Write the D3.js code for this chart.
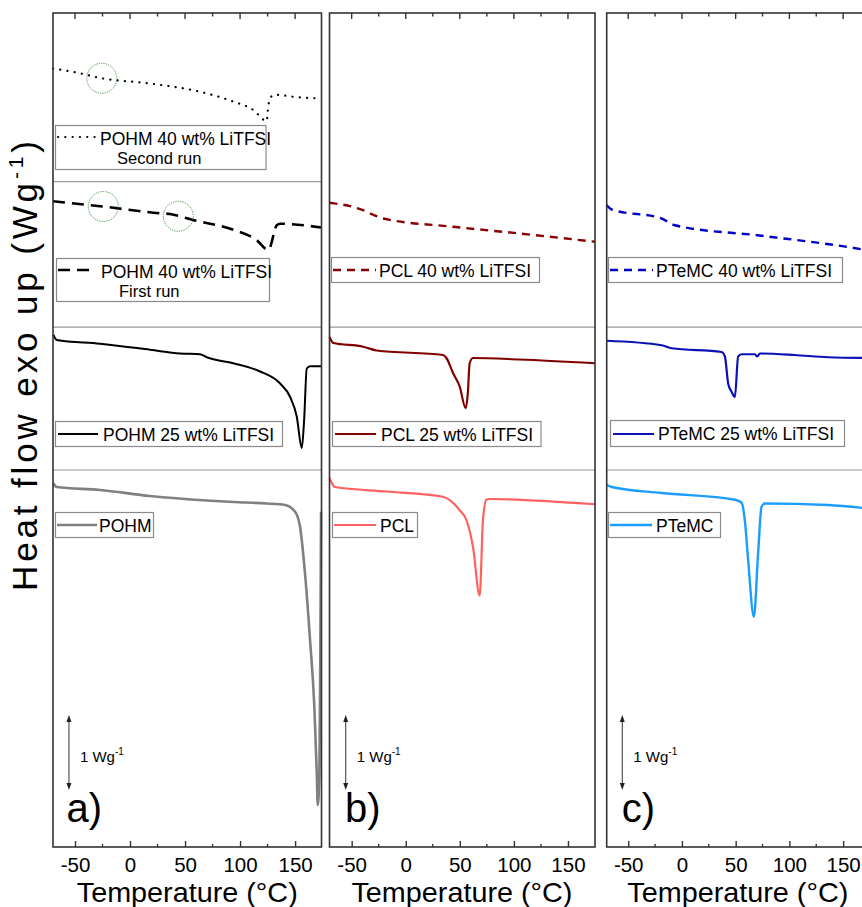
<!DOCTYPE html>
<html><head><meta charset="utf-8">
<script src="https://cdn.jsdelivr.net/npm/d3@7"></script>
<style>
body{margin:0;background:#fff}
svg{display:block}
text{font-family:"Liberation Sans",Arial,Helvetica,sans-serif;fill:#000}
</style>
</head><body>
<svg id="chart" width="862" height="907"></svg>
<script>
// ---------- data (temperature °C, heat flow W/g incl. stacking offset) ----------
const xTicks = [-50, 0, 50, 100, 150];
const xMinorTicks = [-25, 25, 75, 125];
const panelLabels = ["a)", "b)", "c)"];
const axisTitleX = "Temperature (°C)";
const scaleBarText = "1 Wg";

const pohm40Second = [[-70,10.38],[-50,10.33],[-25.7,10.25],[18.2,10.18],[63.6,10.07],[93.6,9.94],[111.8,9.83],[124.3,9.68],[125.5,9.87],[128,10.0],[131.8,10.03],[150,10.0],[173,9.98]];
const pohm40First = [[-70,8.61],[-25,8.54],[27.3,8.45],[36.4,8.44],[50,8.39],[57.5,8.36],[93.9,8.23],[115.2,8.09],[125.7,7.96],[133.4,8.29],[136.4,8.31],[173.5,8.26]];
const pohm25 = [[-69.7,6.83],[-66.6,6.76],[-27.3,6.71],[18.2,6.63],[45.5,6.58],[63.6,6.57],[69.7,6.53],[93.9,6.45],[118.2,6.34],[136.4,6.18],[145.5,6.00],[151.5,5.74],[156.1,5.32],[158.2,5.69],[160.6,6.38],[163.6,6.41],[173.6,6.41]];
const pohm = [[-69.7,4.85],[-66.6,4.80],[-27.3,4.76],[18.2,4.68],[69.7,4.62],[93.9,4.60],[124.3,4.58],[140.9,4.56],[150,4.47],[154.5,4.27],[159,3.65],[163.6,2.76],[167.5,1.87],[169.7,0.99],[170.6,0.56],[172.1,0.99],[173,2.76],[173.6,4.47]];

const pcl40 = [[-70.5,8.59],[-39.3,8.49],[-30.1,8.43],[-20.8,8.38],[43.7,8.27],[105.3,8.18],[175,8.07]];
const pcl25 = [[-70.5,6.80],[-67,6.72],[-39.3,6.67],[-26.9,6.62],[34.5,6.56],[37.6,6.52],[43.7,6.32],[49.9,6.14],[55.4,5.85],[57.4,6.05],[59.1,6.45],[62.2,6.52],[105.3,6.50],[175,6.45]];
const pcl = [[-70.5,4.92],[-65.5,4.80],[-17.7,4.74],[34.5,4.67],[49.9,4.49],[56.1,4.36],[62.2,4.00],[68.4,3.35],[71.4,4.36],[74.5,4.63],[77.6,4.64],[175,4.57]];

const ptemc40 = [[-70.1,8.56],[-65.4,8.50],[-18.9,8.38],[-6.6,8.29],[74.1,8.15],[167.1,7.97],[175,7.95]];
const ptemc25 = [[-70.1,6.75],[-18.9,6.69],[-9.6,6.65],[36.9,6.60],[40,6.54],[43,6.18],[46.2,6.07],[49.3,6.00],[52.3,6.54],[55.5,6.57],[67.9,6.57],[70.1,6.54],[72.6,6.58],[105.1,6.56],[136,6.53],[175,6.52]];
const ptemc = [[-70.1,4.83],[-65.4,4.80],[-18.9,4.72],[49.3,4.63],[55.5,4.59],[58.5,4.36],[61.6,3.83],[66.9,3.07],[70.9,3.92],[74.1,4.54],[77.2,4.58],[136,4.56],[175,4.51]];

const separatorsA = [8.873, 6.933, 5.027];
const separatorsBC = [6.933, 5.027];
const tgCirclesSecond = [[-25.7,10.25]];
const tgCirclesFirst = [[-24.3,8.54],[43.9,8.41]];
const scaleBar = {T: -55.5, base: 0.76, size: 1};

// ---------- layout ----------
const svg = d3.select("#chart");
const yTop = 13, yBot = 847;
const y = d3.scaleLinear().domain([0, (yBot - yTop) / 75]).range([yBot, yTop]);

const panels = [
  {x0: 53,    x1: 321.5, dom: [-70, 174],   label: panelLabels[0], seps: separatorsA},
  {x0: 329.5, x1: 595,   dom: [-70.5, 175], label: panelLabels[1], seps: separatorsBC},
  {x0: 606.7, x1: 870,   dom: [-70, 175],   label: panelLabels[2], seps: separatorsBC}
];

const styles = {
  dotted: {stroke: "#000", width: 2.2, dash: "0.1,7.2", cap: "round"},
  dashBlack: {stroke: "#000", width: 2.6, dash: "12,7", cap: "butt"},
  solidBlack: {stroke: "#000", width: 2, dash: null},
  gray: {stroke: "#808080", width: 2.6, dash: null},
  pcl40: {stroke: "#8b0000", width: 2.4, dash: "8,6", cap: "butt"},
  pcl25: {stroke: "#800000", width: 2.2, dash: null},
  pcl: {stroke: "#ff6060", width: 2.2, dash: null},
  ptemc40: {stroke: "#0000c8", width: 2.4, dash: "8,6", cap: "butt"},
  ptemc25: {stroke: "#0b12b5", width: 2.2, dash: null},
  ptemc: {stroke: "#1a9dff", width: 2.4, dash: null}
};

function styleLine(sel, st) {
  sel.attr("fill", "none").attr("stroke", st.stroke).attr("stroke-width", st.width)
     .attr("stroke-linejoin", "round");
  if (st.dash) sel.attr("stroke-dasharray", st.dash).attr("stroke-linecap", st.cap || "butt");
  return sel;
}

const series = [
  {p: 0, data: pohm40Second, st: styles.dotted},
  {p: 0, data: pohm40First, st: styles.dashBlack},
  {p: 0, data: pohm25, st: styles.solidBlack},
  {p: 0, data: pohm, st: styles.gray},
  {p: 1, data: pcl40, st: styles.pcl40},
  {p: 1, data: pcl25, st: styles.pcl25},
  {p: 1, data: pcl, st: styles.pcl},
  {p: 2, data: ptemc40, st: styles.ptemc40},
  {p: 2, data: ptemc25, st: styles.ptemc25},
  {p: 2, data: ptemc, st: styles.ptemc}
];

const legends = [
  {p: 0, x: 55.5, y: 125.5, w: 210.5, h: 44, lines: ["POHM 40 wt% LiTFSI", "Second run"], sx: [58, 95], sy: 137, st: styles.dotted, tx: 100, l2x: 117},
  {p: 0, x: 56.5, y: 258.5, w: 213, h: 43, lines: ["POHM 40 wt% LiTFSI", "First run"], sx: [58, 90], sy: 270, st: styles.dashBlack, tx: 101, l2x: 119},
  {p: 0, x: 55.5, y: 421.5, w: 227, h: 25, lines: ["POHM 25 wt% LiTFSI"], sx: [58, 98], sy: 434, st: styles.solidBlack, tx: 103},
  {p: 0, x: 55.5, y: 512.5, w: 98, h: 25, lines: ["POHM"], sx: [57, 97], sy: 525, st: styles.gray, tx: 99},
  {p: 1, x: 331.5, y: 257.5, w: 208, h: 25, lines: ["PCL 40 wt% LiTFSI"], sx: [333, 376], sy: 270, st: styles.pcl40, tx: 379},
  {p: 1, x: 332.5, y: 421.5, w: 208.5, h: 25, lines: ["PCL 25 wt% LiTFSI"], sx: [335, 376], sy: 434, st: styles.pcl25, tx: 381},
  {p: 1, x: 332.5, y: 512.5, w: 85, h: 25, lines: ["PCL"], sx: [334, 376], sy: 525, st: styles.pcl, tx: 380},
  {p: 2, x: 608.5, y: 257.5, w: 234, h: 25, lines: ["PTeMC 40 wt% LiTFSI"], sx: [610, 653], sy: 270, st: styles.ptemc40, tx: 656},
  {p: 2, x: 610.5, y: 420.5, w: 234, h: 26, lines: ["PTeMC 25 wt% LiTFSI"], sx: [613, 654], sy: 434, st: styles.ptemc25, tx: 658},
  {p: 2, x: 608.5, y: 512.5, w: 112, h: 25, lines: ["PTeMC"], sx: [610, 652], sy: 525, st: styles.ptemc, tx: 656}
];

panels.forEach((P, i) => {
  const x = d3.scaleLinear().domain(P.dom).range([P.x0, P.x1]);
  P.x = x;
  const g = svg.append("g");
  // separators
  g.selectAll("line.sep").data(P.seps).enter().append("line")
    .attr("x1", P.x0).attr("x2", P.x1).attr("y1", d => y(d)).attr("y2", d => y(d))
    .attr("stroke", "#9a9a9a").attr("stroke-width", 1.2);
  // curves
  const line = d3.line().x(d => x(d[0])).y(d => y(d[1])).curve(d3.curveMonotoneX);
  series.filter(s => s.p === i).forEach(s => {
    styleLine(g.append("path").attr("d", line(s.data)), s.st);
  });
  // frame
  g.append("rect").attr("x", P.x0).attr("y", yTop).attr("width", P.x1 - P.x0).attr("height", yBot - yTop)
    .attr("fill", "none").attr("stroke", "#333").attr("stroke-width", 1.6);
  // bottom axis
  const bottom = g.append("g").attr("transform", `translate(0,${yBot})`)
    .call(d3.axisBottom(x).tickValues(xTicks).tickSize(-6).tickPadding(10).tickFormat(d => String(d)));
  bottom.select(".domain").remove();
  bottom.selectAll(".tick line").attr("stroke", "#333").attr("stroke-width", 1.4);
  bottom.selectAll(".tick text").attr("font-size", 20.5).attr("font-family", '"Liberation Sans",Arial,sans-serif').attr("fill", "#000");
  g.selectAll("line.minb").data(xMinorTicks).enter().append("line")
    .attr("x1", d => x(d)).attr("x2", d => x(d)).attr("y1", yBot).attr("y2", yBot - 3)
    .attr("stroke", "#333").attr("stroke-width", 1.4);
  // top ticks
  g.selectAll("line.topmaj").data(xTicks).enter().append("line")
    .attr("x1", d => x(d)).attr("x2", d => x(d)).attr("y1", yTop).attr("y2", yTop + 6)
    .attr("stroke", "#333").attr("stroke-width", 1.4);
  g.selectAll("line.topmin").data(xMinorTicks).enter().append("line")
    .attr("x1", d => x(d)).attr("x2", d => x(d)).attr("y1", yTop).attr("y2", yTop + 3.5)
    .attr("stroke", "#333").attr("stroke-width", 1.4);
  // axis title
  g.append("text").attr("x", x(52)).attr("y", 902).attr("text-anchor", "middle")
    .attr("font-size", 27.5).attr("textLength", 221).attr("lengthAdjust", "spacingAndGlyphs").text(axisTitleX);
  // scale bar arrow
  const ax = x(scaleBar.T);
  const yb = y(scaleBar.base), yt = y(scaleBar.base + scaleBar.size);
  g.append("line").attr("x1", ax).attr("x2", ax).attr("y1", yt + 3).attr("y2", yb - 3)
    .attr("stroke", "#333").attr("stroke-width", 1);
  g.append("path").attr("d", `M${ax},${yt} l-2.5,7 l5,0 z`).attr("fill", "#222");
  g.append("path").attr("d", `M${ax},${yb} l-2.5,-7 l5,0 z`).attr("fill", "#222");
  const sbt = g.append("text").attr("x", ax + 11).attr("y", y(scaleBar.base + scaleBar.size / 2) + 9)
    .attr("font-size", 15).text(scaleBarText);
  sbt.append("tspan").attr("font-size", 10).attr("dy", -7).text("-1");
  // panel label
  g.append("text").attr("x", P.x0 + (i === 0 ? 13.5 : i === 1 ? 15.5 : 15)).attr("y", 822)
    .attr("font-size", 40).text(P.label);
  // legends
  legends.filter(L => L.p === i).forEach(L => {
    g.append("rect").attr("x", L.x).attr("y", L.y).attr("width", L.w).attr("height", L.h)
      .attr("fill", "#fff").attr("stroke", "#8a8a8a").attr("stroke-width", 1.2);
    styleLine(g.append("line").attr("x1", L.sx[0]).attr("x2", L.sx[1]).attr("y1", L.sy).attr("y2", L.sy), L.st);
    g.append("text").attr("x", L.tx).attr("y", L.y + 19).attr("font-size", 17.5).text(L.lines[0]);
    if (L.lines[1]) {
      g.append("text").attr("x", L.l2x).attr("y", L.y + 38).attr("font-size", 16.5).text(L.lines[1]);
    }
  });
});

// Tg circles in panel a
const xa = panels[0].x;
svg.selectAll("circle.tg").data(tgCirclesSecond.concat(tgCirclesFirst)).enter().append("circle")
  .attr("cx", d => xa(d[0])).attr("cy", d => y(d[1])).attr("r", 15)
  .attr("fill", "none").attr("stroke", "#3d8b3d").attr("stroke-width", 1)
  .attr("stroke-dasharray", "1.2,1.2");

// y-axis title
const ylab = svg.append("text").attr("transform", "translate(37,366) rotate(-90)")
  .attr("text-anchor", "middle").attr("font-size", 35)
  .attr("textLength", 450).attr("lengthAdjust", "spacing");
ylab.append("tspan").text("Heat flow exo up (Wg");
ylab.append("tspan").attr("font-size", 21).attr("dy", -14).text("-1");
ylab.append("tspan").attr("dy", 14).text(")");
</script>
</body></html>
